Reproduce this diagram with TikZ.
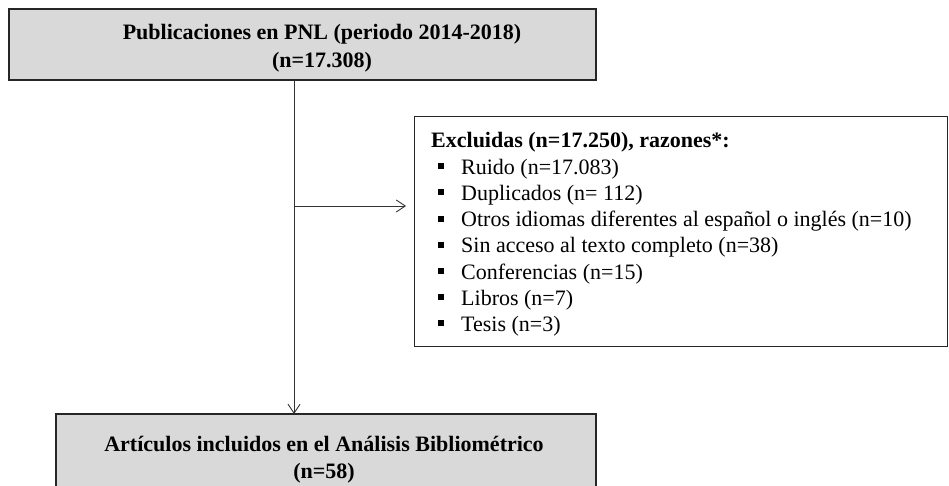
\documentclass[tikz,border=0pt]{standalone}
\usepackage{fontspec}
\setmainfont{Liberation Serif}
\usetikzlibrary{arrows.meta}
\begin{document}
\begin{tikzpicture}[x=1pt,y=-1pt,
  graybox/.style={draw=black!85,line width=1.3pt,fill=black!15},
  plainline/.style={draw=black!80,line width=0.9pt},
  conn/.style={plainline,-{Straight Barb[length=9pt,width=12pt,line width=0.9pt]}},
  headtext/.style={font=\fontsize{22}{27.5}\selectfont\bfseries,anchor=base,inner sep=0pt},
  itemtext/.style={font=\fontsize{22}{26.5}\selectfont,anchor=base west,inner sep=0pt}]
\useasboundingbox (0,0) rectangle (949,486);
% top box
\draw[graybox] (9,9) rectangle (596,80);
\node[headtext] (top1) at (322,40) {Publicaciones en PNL (periodo 2014-2018)};
\node[headtext] (top2) at (322,67.5) {(n=17.308)};
\coordinate (topb) at (294,80);
% bottom box
\draw[graybox] (56,414) rectangle (596,495);
\node[headtext] (bot1) at (324,451) {Artículos incluidos en el Análisis Bibliométrico};
\node[headtext] (bot2) at (324,478) {(n=58)};
\coordinate (bott) at (294,414);
% right box
\draw[draw=black!85,line width=0.9pt,fill=white] (414,116) rectangle (947,346);
\coordinate (rb) at (414,206);
\node[itemtext,font=\fontsize{22}{26.5}\selectfont\bfseries] (h) at (431,148) {Excluidas (n=17.250), razones*:};
\foreach \t [count=\i] in {Ruido (n=17.083),Duplicados (n= 112),Otros idiomas diferentes al español o inglés (n=10),Sin acceso al texto completo (n=38),Conferencias (n=15),Libros (n=7),Tesis (n=3)}{
  \fill (438,148+\i*26.2-11) rectangle ++(6,6);
  \node[itemtext] (it\i) at (461,148+\i*26.2) {\t};
}
% connectors
\coordinate (split) at (294,206);
\draw[plainline] (topb) -- (split);
\draw[conn] (split) -- ([xshift=-8pt]rb);
\draw[conn] (split) -- (bott);
\end{tikzpicture}
\end{document}
